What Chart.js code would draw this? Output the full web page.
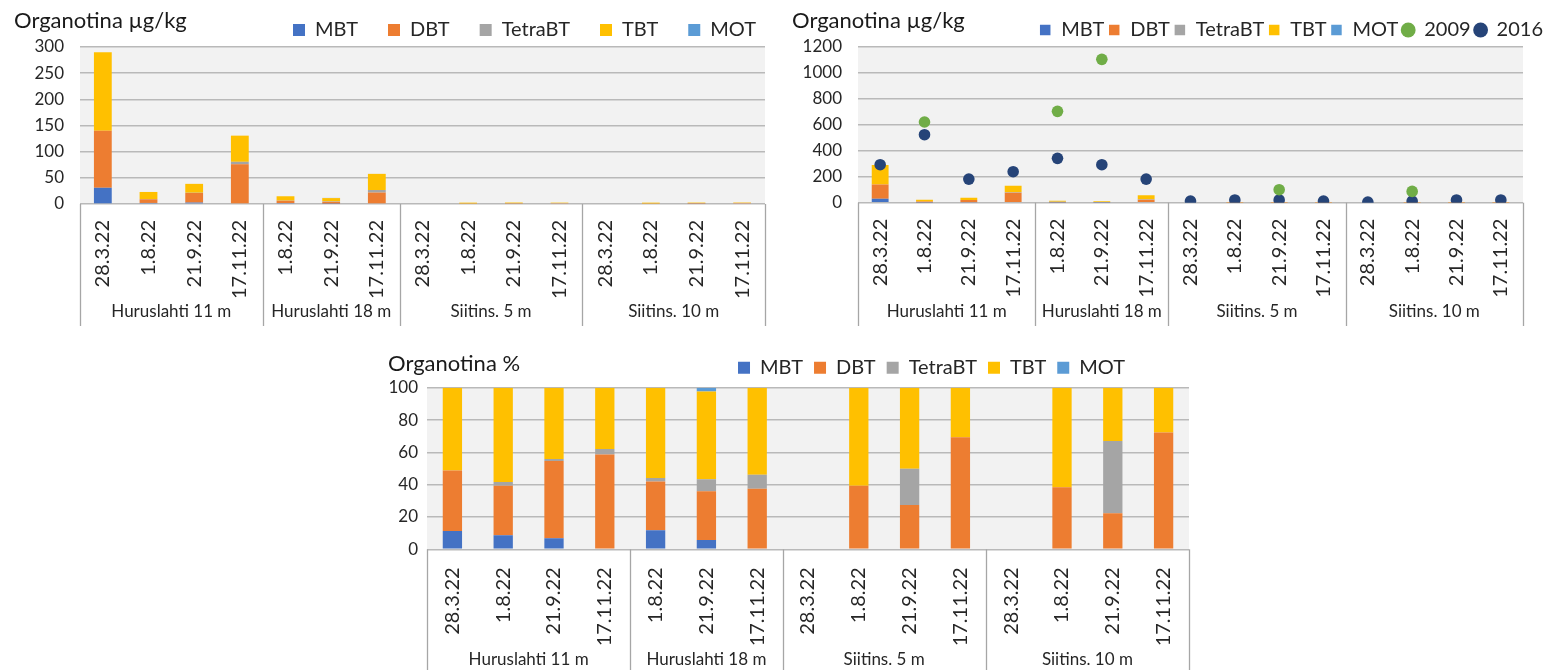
<!DOCTYPE html>
<html>
<head>
<meta charset="utf-8">
<title>Organotina</title>
<script src="https://cdn.jsdelivr.net/npm/chart.js@4.4.1/dist/chart.umd.min.js"></script>
<style>
  html, body { margin: 0; padding: 0; background: #ffffff; }
  body { width: 1552px; height: 670px; position: relative; overflow: hidden; }
  canvas { position: absolute; }
  #absChart { left: 0; top: 0; }
  #histChart { left: 776px; top: 0; }
  #pctChart { left: 374px; top: 340px; }
</style>
</head>
<body>
<canvas id="absChart" width="776" height="335"></canvas>
<canvas id="histChart" width="776" height="335"></canvas>
<canvas id="pctChart" width="830" height="330"></canvas>
<script>
// Sampling dates, grouped by station
const dates = ['28.3.22', '1.8.22', '21.9.22', '17.11.22',
               '1.8.22', '21.9.22', '17.11.22',
               '28.3.22', '1.8.22', '21.9.22', '17.11.22',
               '28.3.22', '1.8.22', '21.9.22', '17.11.22'];
const groupNames = ['Huruslahti 11 m', 'Huruslahti 18 m', 'Siitins. 5 m', 'Siitins. 10 m'];
const groupSizes = [4, 3, 4, 4];

const seriesNames = ['MBT', 'DBT', 'TetraBT', 'TBT', 'MOT'];
const seriesColors = ['#4472C4', '#ED7D31', '#A5A5A5', '#FFC000', '#5B9BD5'];

// Concentrations, µg/kg
const mbt     = [31, 2, 2.7, 0, 1.8, 0.7, 0, 0, 0, 0, 0, 0, 0, 0, 0];
const dbt     = [109, 7, 18.4, 76, 4.4, 3.4, 21.9, 0, 1.0, 0.8, 1.8, 0, 1.0, 0.6, 2.0];
const tetrabt = [0, 0.6, 0.4, 4.6, 0.3, 0.9, 4.9, 0, 0, 0.6, 0, 0, 0, 1.2, 0];
const tbt     = [150, 13.4, 17, 50, 8.3, 6.3, 30.8, 0, 1.6, 1.4, 0.8, 0, 1.6, 0.9, 0.8];
const mot     = [0, 0, 0, 0, 0, 0.3, 0, 0, 0, 0, 0, 0, 0, 0, 0];

// Earlier surveys, µg/kg
const survey2009 = [null, 622, null, null, 704, 1105, null, null, null, 100, null, null, 87, null, null];
const survey2016 = [293, 524, 182, 239, 342, 293, 182, 13, 21, 21, 13, 5, 13, 21, 21];

// Share of each compound, %
const mbtPct     = [11.3, 8.7, 6.8, 0, 11.8, 5.8, 0, 0, 0, 0, 0, 0, 0, 0, 0];
const dbtPct     = [37.4, 30.7, 47.8, 58.6, 30.1, 30.1, 37.5, 0, 39.4, 27.4, 69.3, 0, 38.4, 22.3, 72.2];
const tetrabtPct = [0, 2.2, 1.3, 3.5, 2.2, 7.4, 8.7, 0, 0, 22.5, 0, 0, 0, 44.7, 0];
const tbtPct     = [51.3, 58.4, 44.1, 37.9, 55.9, 54.4, 53.8, 0, 60.6, 50.1, 30.7, 0, 61.6, 33.0, 27.8];
const motPct     = [0, 0, 0, 0, 0, 2.3, 0, 0, 0, 0, 0, 0, 0, 0, 0];

const textColor = '#262626';
const gridColor = '#b9b9b9';
Chart.defaults.font.family = 'Lato, "Open Sans", "DejaVu Sans", sans-serif';
Chart.defaults.color = textColor;

// Grey plotting area behind the grid
const plotBackground = {
  id: 'plotBackground',
  beforeDraw(chart, args, opts) {
    const { ctx, chartArea: a } = chart;
    ctx.save();
    ctx.fillStyle = opts.color;
    ctx.fillRect(a.left, a.top, a.right - a.left, a.bottom - a.top);
    ctx.restore();
  }
};

// Moves the legend row after layout so it sits beside the title
const legendNudge = {
  id: 'legendNudge',
  afterLayout(chart, args, opts) {
    const l = chart.legend;
    if (!l) return;
    l.left += opts.dx; l.right += opts.dx;
    l.top += opts.dy; l.bottom += opts.dy;
  }
};

// Second level of the category axis: station boxes and names
const groupAxis = {
  id: 'groupAxis',
  afterDraw(chart, args, opts) {
    const { ctx, chartArea: a, scales: { x } } = chart;
    const n = x.ticks.length;
    const edge = i => i <= 0 ? a.left : i >= n ? a.right
      : (x.getPixelForTick(i - 1) + x.getPixelForTick(i)) / 2;
    const bounds = [0];
    opts.sizes.forEach(s => bounds.push(bounds[bounds.length - 1] + s));
    ctx.save();
    ctx.strokeStyle = opts.lineColor;
    ctx.lineWidth = opts.lineWidth;
    bounds.forEach(b => {
      const px = Math.round(edge(b)) + 0.5;
      ctx.beginPath();
      ctx.moveTo(px, a.bottom);
      ctx.lineTo(px, opts.bottom);
      ctx.stroke();
    });
    ctx.fillStyle = opts.color;
    ctx.font = opts.font;
    ctx.textAlign = 'center';
    ctx.textBaseline = 'middle';
    opts.names.forEach((name, g) => {
      ctx.fillText(name, (edge(bounds[g]) + edge(bounds[g + 1])) / 2, opts.labelY);
    });
    ctx.restore();
  }
};

function barSets(values, barPct) {
  return seriesNames.map((name, i) => ({
    type: 'bar',
    label: name,
    data: values[i],
    backgroundColor: seriesColors[i],
    borderWidth: 0,
    pointStyle: 'rect',
    barPercentage: barPct,
    categoryPercentage: 1
  }));
}

function makeOptions(c) {
  return {
    responsive: false,
    animation: false,
    devicePixelRatio: 1,
    layout: { padding: { left: c.padLeft, right: c.padRight, top: c.padTop, bottom: 0 } },
    scales: {
      x: {
        stacked: true,
        grid: { display: false },
        border: { display: false },
        ticks: {
          autoSkip: false, minRotation: 90, maxRotation: 90,
          padding: c.xTickPad, color: textColor, font: { size: 20 }
        },
        afterFit: s => { s.height = c.xHeight; }
      },
      y: {
        stacked: true,
        min: 0,
        max: c.yMax,
        ticks: {
          stepSize: c.yStep, padding: c.yTickPad, color: textColor, font: { size: 17 },
          callback: v => String(v)
        },
        grid: { color: gridColor, lineWidth: 1.4, drawTicks: false },
        border: { display: false },
        afterFit: s => { s.width = c.yWidth; }
      }
    },
    plugins: {
      title: {
        display: true,
        text: c.title,
        align: 'start',
        color: '#1a1a1a',
        font: { size: 22, weight: 'normal', lineHeight: 1.2 },
        padding: { top: c.titlePadTop, bottom: -(26.4 + c.titlePadTop) }
      },
      legend: {
        position: 'top',
        align: 'end',
        maxHeight: c.legendMaxHeight,
        labels: {
          color: textColor,
          font: { size: 20 },
          boxWidth: 12,
          boxHeight: c.boxHeight,
          padding: c.legendPad,
          usePointStyle: c.usePointStyle,
          sort: (a, b) => a.datasetIndex - b.datasetIndex
        }
      },
      tooltip: { enabled: false },
      plotBackground: { color: '#f2f2f2' },
      legendNudge: { dx: c.legendDx, dy: c.legendDy },
      groupAxis: {
        names: groupNames, sizes: groupSizes,
        lineColor: '#a6a6a6', lineWidth: 1.3,
        color: textColor, font: '17px Lato, "Open Sans", sans-serif',
        labelY: c.groupLabelY, bottom: c.groupBottom
      }
    }
  };
}

const plugins = [plotBackground, legendNudge, groupAxis];

// Concentrations, µg/kg
new Chart(document.getElementById('absChart'), {
  type: 'bar',
  data: { labels: dates, datasets: barSets([mbt, dbt, tetrabt, tbt, mot], 0.39) },
  options: makeOptions({
    title: 'Organotina µg/kg',
    padLeft: 14, padRight: 11, padTop: 0,
    yWidth: 66, xHeight: 131, yMax: 300, yStep: 50, yTickPad: 16, xTickPad: 8,
    titlePadTop: 8, legendMaxHeight: 47, legendPad: 30, boxHeight: 12,
    usePointStyle: false, legendDx: 21, legendDy: -10,
    groupLabelY: 312, groupBottom: 326
  }),
  plugins
});

// Concentrations with the 2009 and 2016 surveys
const histSets = barSets([mbt, dbt, tetrabt, tbt, mot], 0.38);
histSets.push({
  type: 'line', label: '2009', data: survey2009, stack: 's2009', order: -1,
  showLine: false, pointStyle: 'circle', pointRadius: 5.8, pointHoverRadius: 5.8,
  pointBackgroundColor: '#70AD47', pointBorderWidth: 0,
  backgroundColor: '#70AD47', borderColor: '#70AD47', borderWidth: 0
});
histSets.push({
  type: 'line', label: '2016', data: survey2016, stack: 's2016', order: -1,
  showLine: false, pointStyle: 'circle', pointRadius: 5.8, pointHoverRadius: 5.8,
  pointBackgroundColor: '#264478', pointBorderWidth: 0,
  backgroundColor: '#264478', borderColor: '#264478', borderWidth: 0
});
new Chart(document.getElementById('histChart'), {
  type: 'bar',
  data: { labels: dates, datasets: histSets },
  options: makeOptions({
    title: 'Organotina µg/kg',
    padLeft: 16, padRight: 29, padTop: 13,
    yWidth: 66, xHeight: 132.3, yMax: 1200, yStep: 200, yTickPad: 16, xTickPad: 8,
    titlePadTop: -5, legendMaxHeight: 60, legendPad: 4, boxHeight: 10.5,
    usePointStyle: true, legendDx: 24, legendDy: 3,
    groupLabelY: 312, groupBottom: 326
  }),
  plugins
});

// Shares, %
new Chart(document.getElementById('pctChart'), {
  type: 'bar',
  data: { labels: dates, datasets: barSets([mbtPct, dbtPct, tetrabtPct, tbtPct, motPct], 0.38) },
  options: makeOptions({
    title: 'Organotina %',
    padLeft: 14, padRight: 15, padTop: 6.7,
    yWidth: 39, xHeight: 120.7, yMax: 100, yStep: 20, yTickPad: 9, xTickPad: 10,
    titlePadTop: 4.5, legendMaxHeight: 60, legendPad: 11, boxHeight: 12,
    usePointStyle: false, legendDx: -53, legendDy: 0,
    groupLabelY: 320, groupBottom: 330
  }),
  plugins
});
</script>
</body>
</html>
